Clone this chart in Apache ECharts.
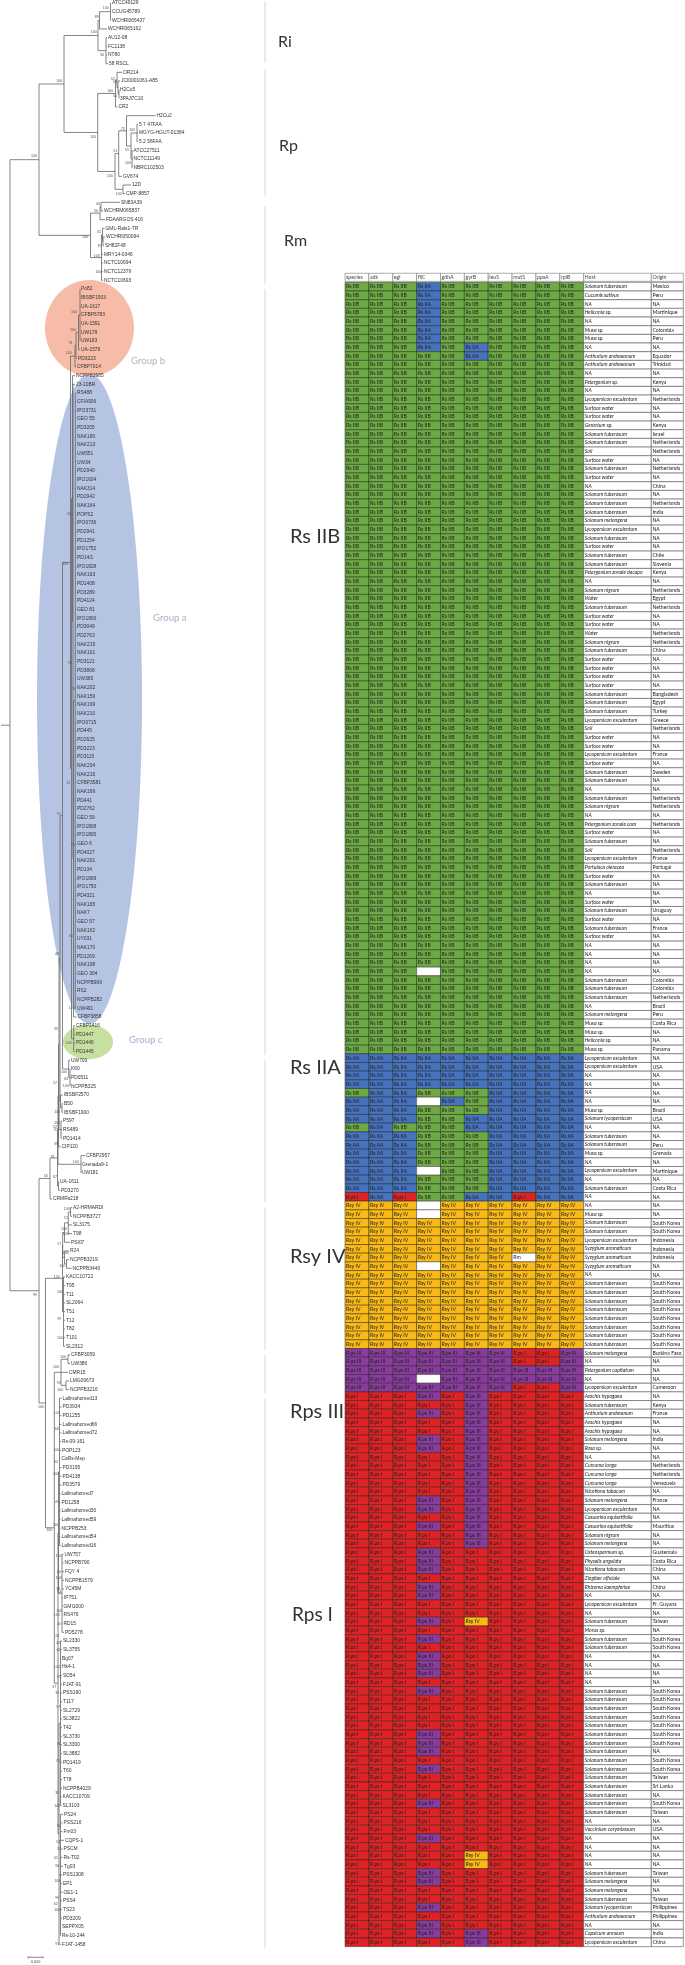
<!DOCTYPE html>
<html><head><meta charset="utf-8">
<style>html,body{margin:0;padding:0;background:#fff}#c{width:685px;height:1965px;filter:blur(0.35px)}</style>
<script src="https://cdn.jsdelivr.net/npm/echarts@6/dist/echarts.min.js"></script>
</head><body><div id="c"></div>
<script>
const leafNames = ['ATCC49129','CCUG45789','WCHRI065437','WCHRI065162','AU12-08','FC1138','NT80','58 RSCL',
'OR214','JCI0001061-A85','H2Cu5','3PA37C10','CR2','H2Cu2','5 7 47FAA','MGYG-HGUT-01384','5 2 56FAA','ATCC27511','NCTC11149','NBRC102503','GV674','12D','CMP-8857',
'SN83A39','WCHRM065837','FDAARGOS 416','GML-Rals1-TR','WCHRI050094','SH82F48','MRY14-0346','NCTC10694','NCTC12379','NCTC10693',
'Po82','IBSBF1503','UA-1617','CFBP6783','UA-1591','UW179','UW163','UA-1579','PD3223','CFBP7014','NCPPB3985','23-10BR',
'RS488','CFIA906','IPO3731','GEO 55','PD3205','NAK180','NAK213','UW551','UW34','PD2940','IPO1604','NAK314','PD2942','NAK164','POPS2','IPO0736','PD2941','PD1254','IPO1752','PD14/1','IPO1828','NAK163','PD1408','PD3289','PD4124','GEO 81','IPO1800','PD3049','PD2763','NAK215','NAK161','PD3121','PD3868','UW365','NAK202','NAK159','NAK199','NAK210','IPO0715','PD445','PD2625','PD3223','PD3115',
'NAK204','NAK215','CFBP3581','NAK169','PD441','PD2762','GEO 59','IPO1808','IPO1805','GEO 6','PD4027','NAK201','PD134','IPO1809','IPO1750','PD4321','NAK165','NAK7','GEO 57','NAK162','UY031','NAK170','PD1269','NAK198','GEO 304','NCPPB909','RS2','NCPPB282','UW491','CFBP3858','CFBP1416','PD1447','PD1446','PD1445',
'UW700','K60','PD0511','NCPPB325','IBSBF2570','B50','IBSBF1900','P597','RS489','PD1414','CIP120','CFBP2957','Grenada9-1','UW181','UA-1611','PD3270','CRMRs218',
'A2-HRMARDI','NCPPB3727','SL3175','T98','PSI07','R24','NCPPB3219','NCPPB3440','KACC10722','T95','T11','SL2064','T51','T12','T82','T101','SL2312',
'CFBP3059','UW386','CMR15','LMG09673','NCPPB3216',
'Lallmahomed13','PD3934','PD1255','Lallmahomed66','Lallmahomed72','Rs-09-161','POP123','CaRs-Mep','PD3195','PD4138','PD3579','Lallmahomed7','PD1258','Lallmahomed30','Lallmahomed59','NCPPB253','Lallmahomed54','Lallmahomed16',
'UW757','NCPPB790','FQY 4','NCPPB1579','YC45M','IP751','GMI1000','RS476','RD15','PD5278','SL2330','SL3755','Bg07','Hk4-1','SD54','FJAT-91','PSS190','T117','SL2729','SL3822','T42','SL3730','SL3300','SL3882','PD1419','T60','T78','NCPPB4029','KACC10709','SL3103','PS24','PSS216','Fm03','CQPS-1','PSCM','Rs-T02','Tg03','PSS1308','EP1','OE1-1','PSS4','TS23','PD3209','SEPPX05','Rs-10-244','FJAT-1458'];

// distance from the root of each leaf tip (1 unit = 0.020/15 substitutions per site)
const leafDepths = [112,112,112,108,108,108,108,109,
123,121,120,120,118.5,156.5,139,139,139,133.5,133.5,133.5,123,132,126,
121,104,106,105.5,106,105,104,104,104,104,
81,81,81,81,81,81,81,81,78,77,76,76,
77,77,77,77,77,77,77,77,77,77,77,77,77,77,77,77,77,77,77,77,77,77,77,77,77,77,77,77,77,77,77,77,77,77,77,77,77,77,77,77,77,77,77,
77,77,77,77,77,77,77,77,77,77,77,77,77,77,77,77,77,77,77,77,77,77,77,77,77,77,77,77,77,77.5,76,76,76,76,
71,71,71,71,64,64,64,63,63,63,61.5,86,82,82,60,61,53,
73,73,73,73,71,70,70,72.5,66,66,66,66,66,66,66,66,66,
71,71,69,70,70,
62.5,62.5,62.5,62.5,62.5,62,62,61.5,62.5,62.5,62.5,61.5,61.5,61.5,61.5,61.5,61.5,61.5,
64.5,64.5,65,65,65,64,63.5,63.5,63.5,65,63,63,62,62,63,63,63,63,63,63,63,63,63,63,63,63,63,63,62.5,62.5,64,63.5,63.5,65,63.5,63.5,64,63,63,63.5,63,63,63,62,62,62];

// tree topology: [node depth, ...children]; a number n means the next n leaves
const treeSpec = [10,
 [39,
  [64,
   [98,[99.5,[110.5,3],1],[106,4]],
   [97.7,
    [115.5,[117,1,[118,1,[119,2]]],1],
    [115,[118.7,[126.5,1,[131,[137,3],[132,3]]],1],[123,2]]
   ]
  ],
  [90.5,
   [100,[101,2],1],
   [101.5,[102.5,1,[103,2]],4]
  ]
 ],
 [39,
  [50,
   [57.5,
    [58,
     [58.5,
      [59,
       [60,
        [62.5,
         [70.5,
          [75,[76,[78.5,[80,7],1],1],1],
          [71.5,
           [72.5,1,[73,1,[73.5,[75.3,72],1]]],
           [73.7,4]
          ]
         ],
         [68.7,1,[70,3]]
        ],
        [60.5,1,[62,2]]
       ],
       [61,3]
      ],
      1
     ],
     [81,3]
    ],
    [58.5,2]
   ],
   1
  ],
  [45.5,
   [62.5,
    [62.7,
     [64.5,[68.3,[70.5,2],2],1],
     [64.5,1,[66.5,2]]
    ],
    [63.5,9]
   ],
   [54.3,
    [61,[68,2],1,[66,2]],
    [58,
     [58.5,[59.5,18],[62,10]],
     [59,[60,[60.5,20]],[60.5,15],1]
    ]
   ]
  ]
 ]
];
const rootStemDepth = 1;

// bootstrap support: [depth, leaf rank, value]
const supportValues = [[105.7,.6,100],[96.7,1.65,89],[93.7,3.4,100],[102,6,56],[59.3,9,100],[34,17.6,100],[112.7,8.8,52],[115,9.15,54],[110.3,10.2,100],[115,10.7,55],[93.3,15.5,100],[122.7,14.5,73],[132.3,14.6,100],[115.3,17.1,51],[127,17,55],[128,18.5,100],[110,20,100],[118.7,22,100],[98,23.2,43],[96,24,56],[85,27,100],[99,26.4,55],[99.7,28,87],[96.7,29.2,100],[98.3,31,100],
[74,35.7,100],[73,37.7,100],[70.7,39.2,91],[68.7,40.4,100],[69.3,59,96],[65.3,64.7,100],[70.3,76.1,92],[73,79.2,76],
[68.3,90,12],[59,93.6,91],[72.7,97.2,99],[71,107.7,65],[57,109.7,48],[71.7,116,100],[56,118.4,39],[68.7,120,100],[64,123.4,100],[66.3,124.2,66],[55,124.6,57],[65.7,125,100],[57.3,128,100],[57.3,129.2,100],[55,129.7,52],[56,130,91],[56,131.7,39],[75.7,133.7,100],[52.7,133.2,91],[55,135.5,87],[45.7,135.4,56],[66.7,139.2,100],[66,140.2,51],[64,141.5,100],[65.7,142,100],[59.3,143.2,57],[65.7,144.2,100],
[62.3,145.7,100],[56.7,147,100],[35,149.1,99],[60,148.7,100],[59.3,151.8,99],[60,154,100],[63,156.2,100],[56,157.4,100],[41,162,100],[58.7,159.2,93],[60.3,160,100],[56.7,162.7,100],[56.7,164.5,66],[57,167,100],[56,168.3,93],[56,169.7,100],[56.7,173,49],[56,175.6,100],[49.3,176.2,100],[58.7,179.2,100],[59,181,60],[58.7,181.7,100],[58.3,183,38],[59.3,183.4,94],[59.3,185.5,100],[56.7,186,100],[58.7,187,40],
[57.3,188.4,24],[58.3,189.2,40],[58.3,190,40],[56.7,192,100],[59,193.2,93],[54.3,194.3,37],[57.3,195,35],[58.3,196.6,57],[58.7,200.9,91],[57.7,202.8,73],[57.3,206.6,35],[57.3,208,100],[58.7,210.4,50],[58.3,212.2,54],[59.3,213,52],[56,214,65],[57.3,215,96],[57.3,216.7,100],[57.3,218.7,99],[55.7,219.4,62],[57.3,220,100],[57.3,224,91]];

const groupNames = ['Group a','Group b','Group c'];
const groupShapes = [[89.5,80.3,52.5,37.5],[89.5,37.5,44.5,5.55],[88,119.9,25,2]];
const groupFill = ['#B6C4E4','#F6BCA8','#C6E0A0'];
const groupLabels = [[153,71,'#ABB0CE'],[131,41.3,'#B4B4B8'],[129,119.7,'#A6ACCC']];

const cladeNames = ['Ri','Rp','Rm','Rs IIB','Rs IIA','Rsy IV','Rps III','Rps I'];
const cladeLabelPos = [[278,4.5,16],[279,16.5,16],[284,27.4,16],[290,61.6,20],[290,122.8,20],[290,144.6,20],[290,162.5,20],[292,186,19]];
const cladeRules = [[-.2,6.9],[7.6,22.2],[23.4,32.4],[33,121.4],[122,138.4],[139,155.4],[156,160.4],[161,224.4]];
const scaleBar = {from:28,to:43,rank:225.5,label:'0.020'};

const geneNames = ['species','adk','egl','fliC','gdhA','gyrB','leuS','mutS','ppsA','rplB'];
const alleleCodes = {B:'Rs IIB',A:'Rs IIA',P:'R.ps I',T:'R.ps III',S:'Rsy IV',M:'Rm',_:''};
const alleleColors = {B:'#6DA945',A:'#4672BE',P:'#DE2226',T:'#8A3B9E',S:'#FBB918',M:'#FFFFFF',_:'#FFFFFF'};
const B='BBBBBBBBBB',S='SSSSSSSSSS',P='PPPPPPPPPP',A='AAAAAAAAAA',G='PPPPPTPPPP',F='PPPTPPPPPP',H='PPPTPTPPPP',X='AAABBBAAAA',Y='TTTTTTTPPT',T='TTTTTTTTTT';
const alleles = ['BBBABBBBBB','BBBABBBBBB','BBBABBBBBB','BBBABBBBBB','BBBABBBBBB','BBBABBBBBB','BBBABBBBBB','BBBABABBBB','BBBBBABBBB',
B,B,B,B,B,B,B,B,B,B,B,B,B,B,B,B,B,B,B,B,B,B,B,B,B,B,B,B,B,B,B,B,B,B,B,B,B,B,B,B,B,B,B,B,B,B,B,B,B,B,B,B,B,B,B,B,B,B,B,B,B,B,B,B,B,B,B,B,B,B,
'BBB_BBBBBB',B,B,B,B,B,B,B,B,B,
A,A,A,A,'BAABBBAAAA','AAA_ABAAAA',X,'AAABBAAAAA','BABBBAAAAA',X,X,X,X,'AAA_BBAAAA',X,X,'PAPBBAAPAA',
'SSS_SSSSSS','SSS_SSSSSS',S,S,S,S,'SSSSSSSMSS','SSS_SSSSSS',S,S,S,S,S,S,S,S,S,
Y,Y,T,'TTT_TTTTTT',Y,
H,G,H,G,G,H,H,G,G,G,G,G,H,H,G,H,G,G,F,F,F,P,F,F,P,P,'PPPTPSPPPP',P,F,P,F,F,F,P,F,
P,P,P,P,F,F,F,P,F,P,P,P,F,P,P,P,F,P,'PPPPPSPPPP','PPPPPSPPPP',F,F,P,P,F,P,F,H,G];

const hosts = ['Solanum tuberosum','Cucumis sativus','NA','Heliconia sp.','NA','Musa sp.','Musa sp.','NA','Anthurium andraeanum','Anthurium andraeanum','NA','Pelargonium sp.','NA','Lycopersicon esculentum','Surface water','Surface water','Geranium sp.','Solanum tuberosum','Solanum tuberosum','Soil','Surface water','Solanum tuberosum','Surface water','NA','Solanum tuberosum',
'Solanum tuberosum','Solanum tuberosum','Solanum melongena','Lycopersicon esculentum','Solanum tuberosum','Surface water','Solanum tuberosum','Solanum tuberosum','Pelargonium zonale dacapo','NA','Solanum nigrum','Water','Solanum tuberosum','Surface water','Surface water','Water','Solanum nigrum','Solanum tuberosum','Surface water','Surface water','Surface water','Surface water','Solanum tuberosum','Solanum tuberosum','Solanum tuberosum','Lycopersicon esculentum','Soil','Surface water',
'Surface water','Lycopersicon esculentum','Surface water','Solanum tuberosum','Solanum tuberosum','NA','Solanum tuberosum','Solanum nigrum','NA','Pelargonium zonale cara','Surface water','Solanum tuberosum','Soil','Lycopersicon esculentum','Portulaca oleracea','Surface water','Solanum tuberosum','NA','Surface water','Solanum tuberosum','Surface water','Solanum tuberosum','Surface water','NA','NA','NA','NA',
'Solanum tuberosum','Solanum tuberosum','Solanum tuberosum','NA','Solanum melongena','Musa sp.','Musa sp.','Heliconia sp.','Musa sp.','Lycopersicon esculentum','Lycopersicon esculentum','NA','NA','NA','NA','Musa sp.','Solanum lycopersicum','NA','Solanum tuberosum','Solanum tuberosum','Musa sp.','NA','Lycopersicon esculentum','NA','Solanum tuberosum','NA','NA','Musa sp.',
'Solanum tuberosum','Solanum tuberosum','Lycopersicon esculentum','Syzygium aromaticum','Syzygium aromaticum','Syzygium aromaticum','NA','Solanum tuberosum','Solanum tuberosum','Solanum tuberosum','Solanum tuberosum','Solanum tuberosum','Solanum tuberosum','Solanum tuberosum','Solanum tuberosum',
'Solanum melongena','NA','Pelargonium capitatum','NA','Lycopersicon esculentum','Arachis hypogaea','Solanum tuberosum','Anthurium andreanum','Arachis hypogaea','Arachis hypogaea','Solanum melongena','Rosa sp.','NA',
'Curcuma longa','Curcuma longa','Curcuma longa','Nicotiana tabacum','Solanum melongena','Lycopersicon esculentum','Casuarina equisetifolia','Casuarina equisetifolia','Solanum nigrum','Solanum melongena','Osteospermum sp.','Physalis angulata','Nicotiana tabacum','Zingiber officiale','Rhizoma kaempferiae','NA','Lycopersicon esculentum','NA','Solanum tuberosum','Morus sp.','Solanum tuberosum','Solanum tuberosum','NA','NA','NA','NA','Solanum tuberosum','Solanum tuberosum','Solanum tuberosum',
'Solanum tuberosum','Solanum tuberosum','Solanum tuberosum','Solanum tuberosum','Solanum tuberosum','Solanum tuberosum','Solanum tuberosum','Solanum tuberosum','Solanum tuberosum','Solanum tuberosum','Solanum tuberosum','Solanum tuberosum','NA','Vaccinium corymbosum','NA','NA','NA','NA','Solanum tuberosum','Solanum melongena','Solanum melongena','Solanum tuberosum','Solanum lycopersicum','Anthurium andraeanum','NA','Capsicum annuum','Lycopersicon esculentum'];

const origins = ['Mexico','Peru','NA','Martinique','NA','Colombia','Peru','NA','Equador','Trinidad','NA','Kenya','NA','Netherlands','NA','NA','Kenya','Israel','Netherlands','Netherlands','NA','Netherlands','NA','China','NA',
'Netherlands','India','NA','NA','NA','NA','Chile','Slovenia','Kenya','NA','Netherlands','Egypt','Netherlands','NA','NA','Netherlands','Netherlands','China','NA','NA','NA','NA','Bangladesh','Egypt','Turkey','Greece','Netherlands','NA',
'NA','France','NA','Sweden','NA','NA','Netherlands','Netherlands','NA','Netherlands','NA','NA','Netherlands','France','Portugal','NA','NA','NA','NA','Uruguay','NA','France','NA','NA','NA','NA','NA',
'Colombia','Colombia','Netherlands','Brazil','Peru','Costa Rica','NA','NA','Panama','NA','USA','NA','NA','NA','NA','Brazil','USA','NA','NA','Peru','Grenada','NA','Martinique','NA','Costa Rica','NA','NA','NA',
'South Korea','South Korea','Indonesia','Indonesia','Indonesia','NA','NA','South Korea','South Korea','South Korea','South Korea','South Korea','South Korea','South Korea','South Korea',
'Burkina Faso','NA','NA','NA','Cameroon','NA','Kenya','France','NA','NA','India','NA','NA',
'Netherlands','Netherlands','Venezuela','NA','France','NA','NA','Mauritius','NA','NA','Guatemala','Costa Rica','China','NA','China','NA','Fr. Guyana','NA','Taiwan','NA','South Korea','South Korea','NA','NA','NA','NA','South Korea','South Korea','South Korea',
'South Korea','South Korea','South Korea','South Korea','NA','South Korea','South Korea','Taiwan','Sri Lanka','NA','South Korea','Taiwan','NA','USA','NA','NA','NA','NA','Taiwan','NA','NA','Taiwan','Philippines','Philippines','NA','India','China'];

// ---- tree layout through the data (depth, rank) ----
const branches = [];
let nextLeaf = 0;
function layout(spec){
  const x = spec[0], kids = [];
  for(let i=1;i<spec.length;i++){
    const c = spec[i];
    if(typeof c === 'number'){
      for(let k=0;k<c;k++){ const id = nextLeaf++; kids.push({x:leafDepths[id]-1,y:id}); }
    } else kids.push(layout(c));
  }
  const top = kids[0].y, bot = kids[kids.length-1].y;
  branches.push([x,top,x,bot]);
  kids.forEach(k=>branches.push([x,k.y,k.x,k.y]));
  return {x,y:(top+bot)/2};
}
const rootNode = layout(treeSpec);
branches.push([rootStemDepth,rootNode.y,rootNode.x,rootNode.y]);

const FONT_TREE = '"Liberation Sans"', FONT_TABLE = 'Lato';
const rowPx = 8.6665;

function lineItem(color,width){
  return (p,api)=>{
    const a=api.coord([api.value(0),api.value(1)]), b=api.coord([api.value(2),api.value(3)]);
    return {type:'line',shape:{x1:a[0],y1:a[1],x2:b[0],y2:b[1]},style:{stroke:color,lineWidth:width},silent:true};
  };
}
const textSeries = (data,opts,z)=>({type:'custom',xAxisIndex:0,yAxisIndex:0,z,silent:true,clip:false,data,
  renderItem:(p,api)=>{
    const d=data[p.dataIndex], c=api.coord([d[0],d[1]]);
    return {type:'text',style:{text:String(d[2]),x:c[0],y:c[1],verticalAlign:'middle',fontFamily:opts.family,fontSize:d[4]||opts.size,
      fill:d[3]||opts.fill,align:opts.align||'left'},silent:true};
  }});

// ---- table ----
const ROW0=-1.1, ROWS=192, tableRowPx=8.668;
const tableTop=282.37+ROW0*tableRowPx, tableH=(ROWS-ROW0)*tableRowPx;
const gridDefs=[
 {left:0,top:3,width:345,height:226*rowPx},
 {left:345,top:tableTop,width:238.7,height:tableH},
 {left:583.7,top:tableTop,width:67.6,height:tableH},
 {left:651.3,top:tableTop,width:32,height:tableH}
];
const hiddenX=[[0,345],[0,10],[0,1],[0,1]], hiddenY=[[0,226],[ROW0,ROWS],[ROW0,ROWS],[ROW0,ROWS]];
function axesX(){return hiddenX.map((r,i)=>({type:'value',gridIndex:i,min:r[0],max:r[1],show:false}));}
function axesY(){return hiddenY.map((r,i)=>({type:'value',gridIndex:i,min:r[0],max:r[1],inverse:true,show:false}));}

function cellSeries(gridIndex,data,italic,stroke,size){
  return {type:'custom',xAxisIndex:gridIndex,yAxisIndex:gridIndex,z:5,silent:true,clip:false,data,
   renderItem:(p,api)=>{
    const d=data[p.dataIndex];
    const hdr=d[1]<0;
    const a=api.coord([d[0],hdr?-1.05:d[1]]), b=api.coord([d[0]+1,hdr?-0.12:d[1]+1]);
    return {type:'group',silent:true,children:[
      {type:'rect',shape:{x:a[0],y:a[1],width:b[0]-a[0],height:b[1]-a[1]},style:{fill:d[3],stroke:hdr?'#777':d[4]||stroke,lineWidth:.6}},
      {type:'text',style:{text:d[2],x:a[0]+1.1,y:(a[1]+b[1])/2,verticalAlign:'middle',align:'left',fontFamily:FONT_TABLE,fontSize:size,fontStyle:italic&&!hdr?'italic':'normal',fill:d[5]||'#222'}}
    ]};
  }};
}
const geneCells=[], hostCells=[], originCells=[];
geneNames.forEach((g,c)=>geneCells.push([c,-1,g,'#fff','#777','#444']));
alleles.forEach((row,r)=>{ for(let c=0;c<10;c++){ const k=row[c]; geneCells.push([c,r,alleleCodes[k],alleleColors[k],k==='_'||k==='M'?'#555':'rgba(20,30,15,.75)']); } });
hostCells.push([0,-1,'Host','#fff','#777','#444']); originCells.push([0,-1,'Origin','#fff','#777','#444']);
hosts.forEach((h,r)=>hostCells.push([0,r,h,'#fff','#555']));
origins.forEach((o,r)=>originCells.push([0,r,o,'#fff','#555']));

const chart=echarts.init(document.getElementById('c'),null,{renderer:'canvas',width:685,height:1965});
chart.setOption({
 animation:false,backgroundColor:'#fff',
 grid:gridDefs,xAxis:axesX(),yAxis:axesY(),
 series:[
  {type:'custom',xAxisIndex:0,yAxisIndex:0,z:1,silent:true,clip:false,data:groupShapes,
   renderItem:(p,api)=>{
     const d=groupShapes[p.dataIndex],c=api.coord([d[0],d[1]]),e=api.coord([d[0]+d[2],d[1]+d[3]]);
     return {type:'ellipse',shape:{cx:c[0],cy:c[1],rx:e[0]-c[0],ry:e[1]-c[1]},style:{fill:groupFill[p.dataIndex]},silent:true};
   }},
  textSeries(groupLabels.map((g,i)=>[g[0],g[1],groupNames[i],g[2]]),{family:FONT_TABLE,size:9.6},2),
  {type:'custom',xAxisIndex:0,yAxisIndex:0,z:2,silent:true,clip:false,
   data:cladeRules.map(r=>[265,r[0],265,r[1]]),renderItem:lineItem('#d2d2d2',.9)},
  textSeries(cladeNames.map((n,i)=>[cladeLabelPos[i][0],cladeLabelPos[i][1],n,'#333',cladeLabelPos[i][2]]),{family:FONT_TABLE,size:16},2),
  {type:'custom',xAxisIndex:0,yAxisIndex:0,z:3,silent:true,clip:false,data:branches,renderItem:lineItem('#666',.8)},
  textSeries(leafNames.map((n,i)=>[leafDepths[i],i,n]),{family:FONT_TREE,size:4.9,fill:'#333'},4),
  textSeries(supportValues.map(s=>[s[0],s[1],s[2]]),{family:FONT_TREE,size:3.6,fill:'#555',align:'center'},4),
  {type:'custom',xAxisIndex:0,yAxisIndex:0,z:3,silent:true,clip:false,
   data:[[scaleBar.from,scaleBar.rank,scaleBar.to,scaleBar.rank],[scaleBar.from,scaleBar.rank-.12,scaleBar.from,scaleBar.rank+.12],[scaleBar.to,scaleBar.rank-.12,scaleBar.to,scaleBar.rank+.12]],
   renderItem:lineItem('#555',.7)},
  textSeries([[(scaleBar.from+scaleBar.to)/2,scaleBar.rank+.5,scaleBar.label]],{family:FONT_TREE,size:3.8,fill:'#444',align:'center'},4),
  cellSeries(1,geneCells,false,'#1c2a12',5.2),
  cellSeries(2,hostCells,true,'#555',5.1),
  cellSeries(3,originCells,false,'#555',5.2)
 ]
});
</script></body></html>
